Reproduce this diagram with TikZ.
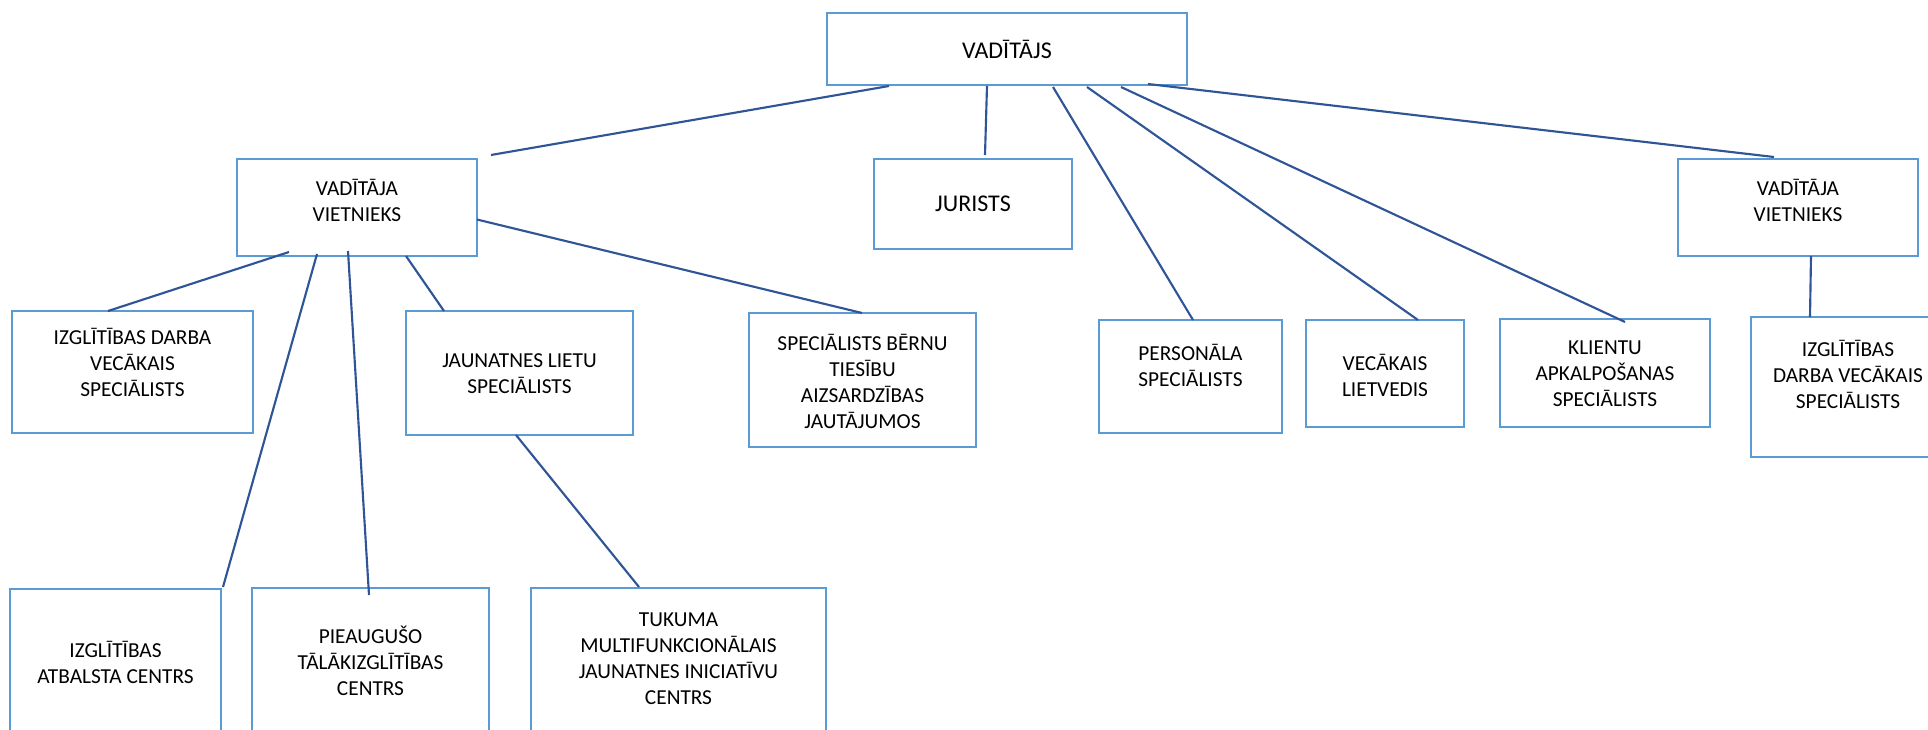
\documentclass[tikz,border=0pt]{standalone}
\usepackage{fontspec}
\setmainfont{Carlito}
\usetikzlibrary{calc}
\definecolor{boxblue}{HTML}{5B9BD5}
\definecolor{linkblue}{HTML}{2F5597}

\begin{document}
\begin{tikzpicture}[x=0.75pt,y=-0.75pt,
    orgbox/.style={draw=boxblue,line width=2pt,fill=white,inner sep=0pt,outer sep=0pt},
    orgtext/.style={align=center,inner sep=0pt},
    link/.style={draw=linkblue,line width=1.6pt}]

  %% Page frame
  \useasboundingbox (0,0) rectangle (1928,729);
  \clip (0,0) rectangle (1928,729);

  %% Boxes: name / left / top / right / bottom / text centre / font size / text
  \foreach \nm/\xa/\ya/\xb/\yb/\ty/\fs/\txt in {
      boss/827/13/1187/85/49/18/{VADĪTĀJS},
      vvl/237/159/477/256/200/16/{VADĪTĀJA\\VIETNIEKS},
      jur/874/159/1072/249/204/18/{JURISTS},
      vvr/1678/159/1918/256/200/16/{VADĪTĀJA\\VIETNIEKS},
      idvl/12/311/253/433/362/16/{IZGLĪTĪBAS DARBA\\VECĀKAIS\\SPECIĀLISTS},
      jaun/406/311/633/435/374/16/{JAUNATNES LIETU\\SPECIĀLISTS},
      sbt/749/313/976/447/381/16/{SPECIĀLISTS BĒRNU\\TIESĪBU\\AIZSARDZĪBAS\\JAUTĀJUMOS},
      pers/1099/320/1282/433/365/16/{PERSONĀLA\\SPECIĀLISTS},
      vl/1306/320/1464/427/375/16/{VECĀKAIS\\LIETVEDIS},
      kl/1500/319/1710/427/374/16/{KLIENTU\\APKALPOŠANAS\\SPECIĀLISTS},
      idvr/1751/317/1945/457/374/16/{IZGLĪTĪBAS\\DARBA VECĀKAIS\\SPECIĀLISTS},
      iac/10/589/221/760/662/16/{IZGLĪTĪBAS\\ATBALSTA CENTRS},
      ptc/252/588/489/760/661/16/{PIEAUGUŠO\\TĀLĀKIZGLĪTĪBAS\\CENTRS},
      tuk/531/588/826/760/659/16/{TUKUMA\\MULTIFUNKCIONĀLAIS\\JAUNATNES INICIATĪVU\\CENTRS}}{
    \node[orgbox,minimum width={(\xb-\xa)*0.75pt},minimum height={(\yb-\ya)*0.75pt}] (\nm) at ({(\xa+\xb)/2},{(\ya+\yb)/2}) {};
    \node[orgtext,font=\fontsize{\fs}{19.5}\selectfont] (\nm-txt) at ({(\xa+\xb)/2},\ty) {\txt};
  }

  %% Connectors: from / offset / to / offset
  \foreach \a/\da/\b/\db in {
      boss.south west/{62,1}/vvl.north east/{14,-4},
      boss.south west/{160,1}/jur.north west/{111,-4},
      boss.south west/{226,2}/pers.north west/{94,0},
      boss.south west/{260,2}/vl.north west/{112,0},
      boss.south west/{294,2}/kl.north west/{125,3},
      boss.south west/{321,-1}/vvr.north west/{96,-2},
      vvl.south west/{52,-4}/idvl.north west/{96,0},
      vvl.south west/{80,-2}/iac.north east/{2,-2},
      vvl.south west/{111,-5}/ptc.north west/{117,7},
      vvl.south west/{169,0}/jaun.north west/{38,0},
      vvl.east/{0,12}/sbt.north west/{113,0},
      jaun.south west/{110,0}/tuk.north west/{108,-1},
      vvr.south west/{133,0}/idvr.north west/{59,0}}{
    \draw[link] ($(\a)+(\da)$) -- ($(\b)+(\db)$);
  }

\end{tikzpicture}
\end{document}
